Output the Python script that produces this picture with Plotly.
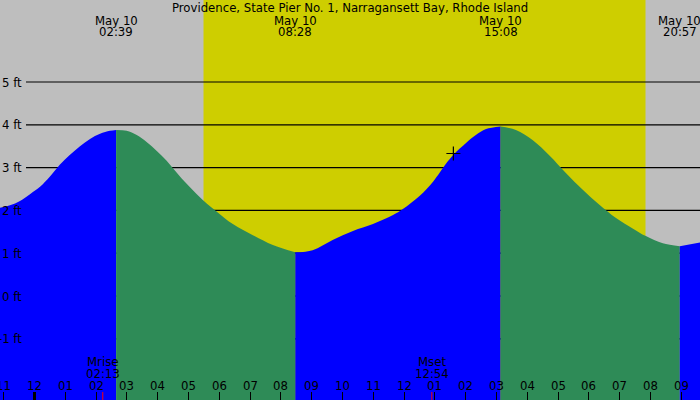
import plotly.graph_objects as go

title = "Providence, State Pier No. 1, Narragansett Bay, Rhode Island"

# hours after midnight May 10 and tide height in ft
hours = [-1.12, -0.795, -0.471, -0.146, 0.179, 0.503, 0.828, 1.153, 1.477, 1.802,
         2.127, 2.451, 2.65, 2.99, 3.32, 3.64, 3.97, 4.29, 4.62, 4.94, 5.27, 5.59,
         5.92, 6.44, 7.09, 7.74, 8.467, 9.03, 9.68, 10.34, 10.99, 11.64, 11.96,
         12.51, 12.94, 13.37, 13.59, 14.02, 14.33, 14.66, 15.133, 15.63, 16.18,
         16.71, 17.26, 17.80, 18.34, 18.88, 19.42, 19.85, 20.40, 20.95, 21.61]
heights = [2.06, 2.12, 2.22, 2.38, 2.55, 2.79, 3.07, 3.30, 3.50, 3.67,
           3.79, 3.86, 3.88, 3.86, 3.76, 3.60, 3.39, 3.16, 2.88, 2.62, 2.38, 2.16,
           1.97, 1.68, 1.42, 1.19, 1.02, 1.07, 1.31, 1.52, 1.68, 1.89, 2.03,
           2.34, 2.67, 3.10, 3.29, 3.58, 3.76, 3.90, 3.96, 3.88, 3.64,
           3.29, 2.87, 2.48, 2.13, 1.82, 1.58, 1.40, 1.23, 1.16, 1.25]

# high / low tides
tide_hours = [2.65, 8.467, 15.133, 20.95]
tide_dates = ["May 10", "May 10", "May 10", "May 10"]
tide_times = ["02:39", "08:28", "15:08", "20:57"]

# daylight
sunrise = 5.487
sunset = 19.838

# moon rise / set
moon_hours = [2.217, 12.9]
moon_names = ["Mrise", "Mset"]
moon_times = ["02:13", "12:54"]

# "now" marker
now_hour = [13.60]
now_height = [3.33]

# bottom hour ticks
tick_hours = list(range(-1, 22))
tick_labels = ["11", "12", "01", "02", "03", "04", "05", "06", "07", "08", "09",
               "10", "11", "12", "01", "02", "03", "04", "05", "06", "07", "08", "09"]
midnight = [0]

levels = [-1, 0, 1, 2, 3, 4, 5]
level_labels = ["-1 ft", "0 ft", "1 ft", "2 ft", "3 ft", "4 ft", "5 ft"]

X_RANGE = [-1.12, 21.607]
Y_RANGE = [-2.43, 6.916]
W, H = 700, 400
FONT = "DejaVu Sans Condensed, DejaVu Sans"
FSIZE = 13

BLUE = "#0000ff"
GREEN = "#2e8b57"
GRAY = "#bebebe"
YELLOW = "#cece00"

fig = go.Figure()

# split the curve at each high/low into rising (blue) and falling (green) pieces
bounds = [hours[0]] + tide_hours + [hours[-1]]
for b0, b1 in zip(bounds[:-1], bounds[1:]):
    seg = [(t, h) for t, h in zip(hours, heights) if b0 <= t <= b1]
    if len(seg) < 2:
        continue
    xs = [p[0] for p in seg]
    ys = [p[1] for p in seg]
    color = BLUE if ys[-1] > ys[0] else GREEN
    fig.add_trace(go.Scatter(x=xs, y=[Y_RANGE[0]] * len(xs), mode="lines",
                             line=dict(width=0), hoverinfo="skip", showlegend=False))
    fig.add_trace(go.Scatter(x=xs, y=ys, mode="lines", fill="tonexty",
                             fillcolor=color, line=dict(width=0, shape="spline", color=color),
                             showlegend=False))

fig.add_trace(go.Scatter(x=now_hour, y=now_height, mode="markers",
                         marker=dict(symbol="cross-thin", size=10,
                                     line=dict(color="black", width=1.2)),
                         showlegend=False))

shapes = [dict(type="rect", xref="x", yref="paper", x0=sunrise, x1=sunset,
               y0=0, y1=1, fillcolor=YELLOW, line=dict(width=0), layer="below")]
for lv in levels:
    shapes.append(dict(type="line", xref="paper", yref="y", x0=26 / W, x1=1,
                       y0=lv, y1=lv, line=dict(color="black", width=1.2), layer="below"))
for m in midnight:
    shapes.append(dict(type="line", xref="x", yref="paper", x0=m, x1=m,
                       y0=0, y1=8 / H, line=dict(color="black", width=3)))
for m in moon_hours:
    shapes.append(dict(type="line", xref="x", yref="paper", x0=m, x1=m,
                       y0=0, y1=8 / H, line=dict(color="red", width=1)))

def py(ypix):
    return 1 - ypix / H

font = dict(family=FONT, size=FSIZE, color="black")
ann = [dict(text=title, x=0.5, y=py(7.5), xref="paper", yref="paper",
            showarrow=False, font=font, yanchor="middle")]
for t, d, tm in zip(tide_hours, tide_dates, tide_times):
    ann.append(dict(text=d, x=t, y=py(20), xref="x", yref="paper",
                    showarrow=False, font=font, yanchor="middle"))
    ann.append(dict(text=tm, x=t, y=py(31.5), xref="x", yref="paper",
                    showarrow=False, font=font, yanchor="middle"))
for t, n, tm in zip(moon_hours, moon_names, moon_times):
    ann.append(dict(text=n, x=t, y=py(361.5), xref="x", yref="paper",
                    showarrow=False, font=font, yanchor="middle"))
    ann.append(dict(text=tm, x=t, y=py(373.5), xref="x", yref="paper",
                    showarrow=False, font=font, yanchor="middle"))
for t, lab in zip(tick_hours, tick_labels):
    ann.append(dict(text=lab, x=t, y=py(385.5), xref="x", yref="paper",
                    showarrow=False, font=font, yanchor="middle"))
for lv, lab in zip(levels, level_labels):
    ann.append(dict(text=lab, x=24 / W, y=lv, xref="paper", yref="y",
                    showarrow=False, font=font, xanchor="right", yanchor="middle"))

fig.update_layout(
    width=W, height=H,
    margin=dict(l=0, r=0, t=0, b=0),
    paper_bgcolor=GRAY, plot_bgcolor=GRAY,
    shapes=shapes, annotations=ann,
    xaxis=dict(range=X_RANGE, showgrid=False, zeroline=False, showline=False,
               tickvals=tick_hours, ticks="inside", ticklen=8, tickcolor="black",
               tickwidth=1, showticklabels=False, fixedrange=True),
    yaxis=dict(range=Y_RANGE, showgrid=False, zeroline=False, showline=False,
               showticklabels=False, ticks="", fixedrange=True),
    hovermode=False,
)

# the page body has an 8px default margin; drop it so the chart fills the window
fig.write_html("out.html", config={"displayModeBar": False},
               post_script="document.body.style.margin='0';")
